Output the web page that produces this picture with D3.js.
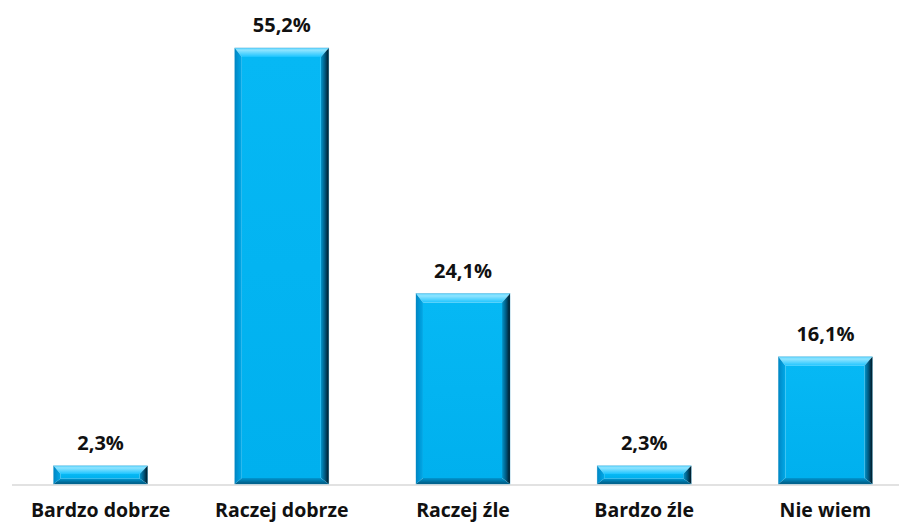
<!DOCTYPE html>
<html>
<head>
<meta charset="utf-8">
<script src="https://cdn.jsdelivr.net/npm/d3@7"></script>
<style>
  html, body { margin: 0; padding: 0; background: #ffffff; }
  svg { display: block; }
</style>
</head>
<body>
<div id="chart"></div>
<script>
const categories = ["Bardzo dobrze", "Raczej dobrze", "Raczej źle", "Bardzo źle", "Nie wiem"];
const values = [2.3, 55.2, 24.1, 2.3, 16.1];
const valueLabels = ["2,3%", "55,2%", "24,1%", "2,3%", "16,1%"];

const W = 899, H = 523;
const baseY = 484;

const svg = d3.select("#chart").append("svg")
  .attr("width", W).attr("height", H);

const x = d3.scaleBand().domain(categories).range([10, 916])
  .paddingInner(0.481).paddingOuter(0.2405);
const y = d3.scaleLinear().domain([0, 60]).range([baseY, baseY - 60 * 7.9]);

const defs = svg.append("defs");
function grad(id, x1, y1, x2, y2, stops) {
  const g = defs.append("linearGradient").attr("id", id)
    .attr("x1", x1).attr("y1", y1).attr("x2", x2).attr("y2", y2);
  stops.forEach(s => g.append("stop").attr("offset", s[0]).attr("stop-color", s[1]));
}
grad("gTop", 0, 0, 0, 1, [[0, "#5fd6ff"], [0.25, "#8fe4ff"], [1, "#1cc4ff"]]);
grad("gLeft", 0, 0, 1, 0, [[0, "#0086c4"], [1, "#00a9e8"]]);
grad("gRight", 0, 0, 1, 0, [[0, "#0096cc"], [0.5, "#005a82"], [1, "#001520"]]);
grad("gBottom", 0, 0, 0, 1, [[0, "#0097d2"], [1, "#00577e"]]);
grad("gFace", 0, 0, 0, 1, [[0, "#06b8f4"], [1, "#00b0ee"]]);

// axis line
svg.append("line")
  .attr("x1", 12).attr("x2", W)
  .attr("y1", baseY + 1).attr("y2", baseY + 1)
  .attr("stroke", "#d9d9d9").attr("stroke-width", 1.5);

const bars = svg.selectAll("g.bar").data(categories.map((c, i) => ({c, v: values[i], l: valueLabels[i]})))
  .enter().append("g").attr("class", "bar");

bars.each(function(d) {
  const g = d3.select(this);
  const x0 = x(d.c), x1 = x0 + x.bandwidth();
  const y0 = y(d.v), y1 = y(0);
  const h = y1 - y0;
  const bt = Math.min(9, h * 0.45), bb = Math.min(6, h * 0.3);
  const bl = 7, br = 8;
  const ix0 = x0 + bl, ix1 = x1 - br, iy0 = y0 + bt, iy1 = y1 - bb;
  const pts = a => a.map(p => p.join(",")).join(" ");
  g.append("polygon").attr("points", pts([[x0, y0], [x1, y0], [ix1, iy0], [ix0, iy0]])).attr("fill", "url(#gTop)");
  g.append("polygon").attr("points", pts([[x0, y0], [ix0, iy0], [ix0, iy1], [x0, y1]])).attr("fill", "url(#gLeft)");
  g.append("polygon").attr("points", pts([[x1, y0], [x1, y1], [ix1, iy1], [ix1, iy0]])).attr("fill", "url(#gRight)");
  g.append("polygon").attr("points", pts([[x0, y1], [ix0, iy1], [ix1, iy1], [x1, y1]])).attr("fill", "url(#gBottom)");
  g.append("rect").attr("x", ix0).attr("y", iy0).attr("width", ix1 - ix0).attr("height", Math.max(0, iy1 - iy0)).attr("fill", "url(#gFace)");
  g.append("rect").attr("x", x0).attr("y", y0).attr("width", x1 - x0).attr("height", h)
    .attr("fill", "none").attr("stroke", "#0a8fc4").attr("stroke-width", 0.5).attr("stroke-opacity", 0.6);
});

bars.append("text")
  .attr("x", d => x(d.c) + x.bandwidth() / 2)
  .attr("y", d => y(d.v) - 16)
  .attr("text-anchor", "middle")
  .attr("font-family", "'Open Sans', sans-serif")
  .attr("font-weight", 700)
  .attr("font-size", 20)
  .attr("fill", "#111")
  .text(d => d.l);

svg.selectAll("text.cat").data(categories).enter().append("text")
  .attr("class", "cat")
  .attr("x", d => x(d) + x.bandwidth() / 2)
  .attr("y", 517)
  .attr("text-anchor", "middle")
  .attr("font-family", "'Open Sans', sans-serif")
  .attr("font-weight", 700)
  .attr("font-size", 19.5)
  .attr("fill", "#111")
  .text(d => d);
</script>
</body>
</html>
